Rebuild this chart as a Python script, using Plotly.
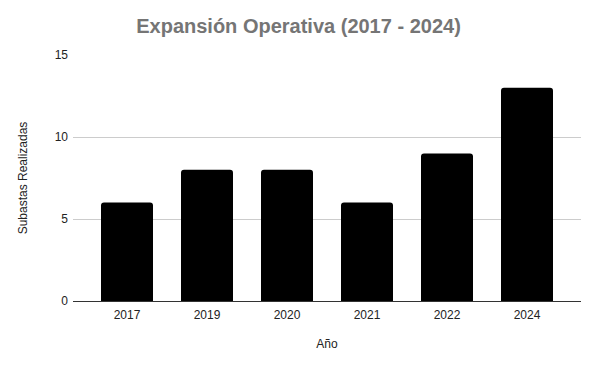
import plotly.graph_objects as go

years = ["2017", "2019", "2020", "2021", "2022", "2024"]
subastas = [6, 8, 8, 6, 9, 13]

fig = go.Figure(go.Bar(
    x=years, y=subastas,
    marker=dict(color="#000000", cornerradius=3, line=dict(width=0)),
    width=0.65,
))

fig.update_layout(
    width=597, height=366,
    margin=dict(l=73, r=16, t=55, b=65, autoexpand=False),
    paper_bgcolor="white", plot_bgcolor="white",
    font=dict(family="Arial, Liberation Sans, sans-serif", size=12, color="#222222"),
    title=dict(text="<b>Expansión Operativa (2017 - 2024)</b>",
               font=dict(size=20, color="#757575"),
               x=0.5, xref="container", xanchor="center",
               y=1 - 26 / 366, yref="container", yanchor="middle"),
    showlegend=False,
    bargap=0.35,
)

fig.update_xaxes(
    type="category", range=[-0.675, 5.675], automargin=False,
    showgrid=False, showline=False, ticks="outside", ticklen=3, tickcolor="rgba(0,0,0,0)",
    tickfont=dict(size=12, color="#222222"),
    title=dict(text="Año", font=dict(size=12, color="#222222"), standoff=18),
)
fig.update_yaxes(
    range=[0, 15], tickvals=[0, 5, 10, 15], automargin=False,
    showgrid=True, gridcolor="#cccccc", gridwidth=1,
    zeroline=True, zerolinecolor="#333333", zerolinewidth=1,
    showline=False, ticks="", ticklabelstandoff=4,
    tickfont=dict(size=12, color="#222222"),
    title=dict(text="Subastas Realizadas", font=dict(size=12, color="#222222"), standoff=24),
)

fig.write_html("out.html", post_script="document.body.style.margin='0';",
               config={"displayModeBar": False})
